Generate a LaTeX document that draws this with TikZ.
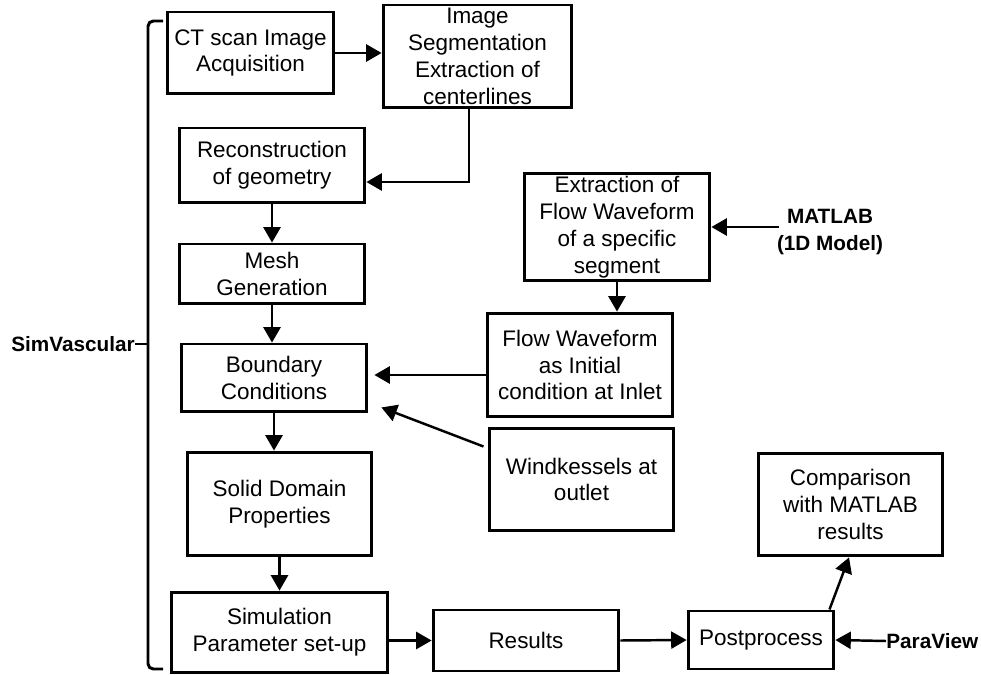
\documentclass[tikz,border=0pt]{standalone}
\usepackage{fontspec}
\setmainfont{Liberation Sans}
\usepackage{tikz}
\usetikzlibrary{calc}
\usetikzlibrary{arrows}

\begin{document}
\begin{tikzpicture}[x=0.02cm, y=-0.02cm]
	\tikzstyle{every node}=[font=\fontsize{12.8}{15.3}\selectfont]
	\tikzset{box/.style = {rectangle, draw, line width = 1.7pt, align = center, inner sep = 0pt}}
	\tikzset{tool/.style = {inner sep = 0pt, align = center, font = \fontsize{11.8}{15.3}\selectfont\bfseries}}
	\tikzset{flow/.style = {-triangle 60, line width = 1.4pt}}

\useasboundingbox (0,0) rectangle (981,675);

%% SimVascular column

\draw (250.5,53) node[box, name = ct, minimum width = 3.34cm, minimum height = 1.64cm]{CT scan Image\\Acquisition};
\draw (477.5,56.5) node[box, name = seg, minimum width = 3.78cm, minimum height = 2.06cm]{Image\\Segmentation\\Extraction of\\centerlines};
\draw (272,165.5) node[box, name = recon, minimum width = 3.72cm, minimum height = 1.5cm]{Reconstruction\\of geometry};
\draw (272,274) node[box, name = mesh, minimum width = 3.72cm, minimum height = 1.2cm]{Mesh\\Generation};
\draw (274,378) node[box, name = bc, minimum width = 3.72cm, minimum height = 1.36cm]{Boundary\\Conditions};
\draw (279.5,504) node[box, name = solid, minimum width = 3.7cm, minimum height = 2.08cm]{Solid Domain\\Properties};
\draw (279.5,632.5) node[box, name = sim, minimum width = 4.34cm, minimum height = 1.62cm]{Simulation\\Parameter set-up};

%% Inflow and outflow conditions

\draw (617,227) node[box, name = extr, minimum width = 3.72cm, minimum height = 2.16cm]{Extraction of\\Flow Waveform\\of a specific\\segment};
\draw (580,365) node[box, name = inlet, minimum width = 3.72cm, minimum height = 2.08cm]{Flow Waveform\\as Initial\\condition at Inlet};
\draw (581.5,479.5) node[box, name = wind, minimum width = 3.7cm, minimum height = 2.06cm]{Windkessels at\\outlet};

%% Results and postprocessing

\draw (526,640.5) node[box, name = results, minimum width = 3.72cm, minimum height = 1.22cm]{Results};
\draw (761,640) node[box, name = post, minimum width = 2.92cm, minimum height = 1.16cm]{Postprocess};
\draw (850.5,504.5) node[box, name = comp, minimum width = 3.7cm, minimum height = 2.06cm]{Comparison\\with MATLAB\\results};

%% Tools

\draw (830,232) node[tool, name = matlab]{MATLAB\\(1D Model)};
\draw (886,641) node[tool, name = paraview, anchor = west]{ParaView};
\draw (135,344) node[tool, name = simv, anchor = east]{SimVascular};

%% Bracket

\draw[line width = 1.7pt, rounded corners = 3pt] (163,21) -- (148,21) -- (148,669) -- (163,669);
\draw[line width = 1.7pt] (148,344) -- (simv.east);

%% Edges

\draw[flow] (ct.east) -- (ct.east -| seg.west);
\draw[flow] ($(seg.south)+(-8.5,0)$) |- ($(recon.east)+(0,16.5)$);
\draw[flow] (recon.south) -- (recon.south |- mesh.north);
\draw[flow] (mesh.south) -- (mesh.south |- bc.north);
\draw[flow] (bc.south) -- (bc.south |- solid.north);
\draw[flow] (solid.south) -- (solid.south |- sim.north);
\draw[flow] (sim.east |- results.west) -- (results.west);
\draw[flow] (results.east) -- (post.west);
\draw[flow] (paraview.west) -- (post.east);
\draw[flow] ($(post.north east)+(-6,0)$) -- ($(comp.south)+(-1.5,0)$);

\draw[flow] ($(extr.east -| matlab.west)+(2,0)$) -- (extr.east);
\draw[flow] (extr.south) -- (extr.south |- inlet.north);
\draw[flow] ($(inlet.west)+(0,10)$) -- ($(bc.east)+(6,-3)$);
\draw[flow] ($(wind.north west)+(-4,20)$) -- ($(bc.south east)+(13,-6)$);

\end{tikzpicture}
\end{document}
